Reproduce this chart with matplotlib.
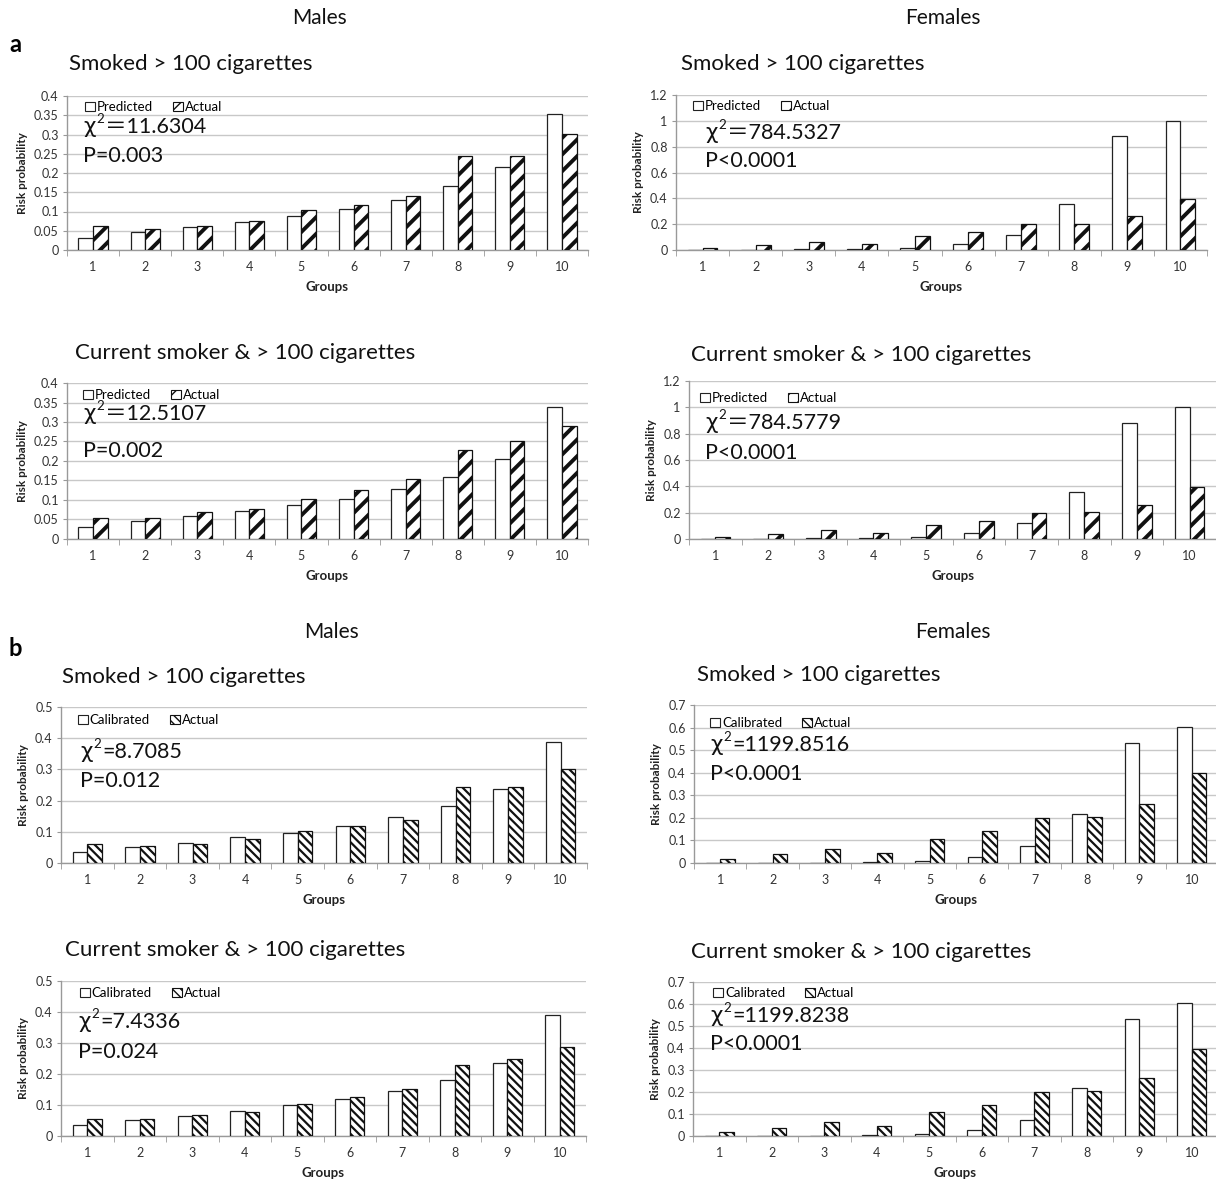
import matplotlib
matplotlib.use("Agg")
import matplotlib.pyplot as plt
from matplotlib.patches import Patch
import numpy as np

plt.rcParams['font.family'] = ['Lato', 'DejaVu Sans', 'Noto Sans CJK SC']

W, H = 1216, 1182

groups = [1, 2, 3, 4, 5, 6, 7, 8, 9, 10]

# ---- a: predicted vs actual ----
a_male_smoked_pred = [0.032, 0.047, 0.059, 0.074, 0.088, 0.106, 0.131, 0.167, 0.215, 0.352]
a_male_smoked_act = [0.062, 0.055, 0.062, 0.076, 0.104, 0.118, 0.139, 0.243, 0.243, 0.302]
a_female_smoked_pred = [0.002, 0.003, 0.004, 0.006, 0.015, 0.045, 0.120, 0.360, 0.880, 1.000]
a_female_smoked_act = [0.018, 0.035, 0.065, 0.045, 0.108, 0.138, 0.198, 0.203, 0.260, 0.395]
a_male_current_pred = [0.031, 0.045, 0.058, 0.072, 0.086, 0.102, 0.127, 0.158, 0.206, 0.338]
a_male_current_act = [0.055, 0.055, 0.069, 0.077, 0.103, 0.125, 0.153, 0.228, 0.250, 0.289]
a_female_current_pred = [0.001, 0.002, 0.004, 0.006, 0.015, 0.045, 0.120, 0.360, 0.880, 1.000]
a_female_current_act = [0.018, 0.035, 0.065, 0.045, 0.108, 0.138, 0.198, 0.203, 0.260, 0.395]

# ---- b: calibrated vs actual ----
b_male_smoked_cal = [0.035, 0.051, 0.065, 0.082, 0.097, 0.117, 0.146, 0.184, 0.236, 0.389]
b_male_smoked_act = [0.062, 0.055, 0.062, 0.076, 0.104, 0.118, 0.139, 0.243, 0.243, 0.302]
b_female_smoked_cal = [0.001, 0.001, 0.001, 0.003, 0.008, 0.027, 0.075, 0.218, 0.532, 0.604]
b_female_smoked_act = [0.018, 0.038, 0.063, 0.045, 0.108, 0.140, 0.198, 0.203, 0.262, 0.397]
b_male_current_cal = [0.034, 0.052, 0.066, 0.082, 0.099, 0.118, 0.146, 0.182, 0.237, 0.389]
b_male_current_act = [0.055, 0.055, 0.069, 0.076, 0.103, 0.125, 0.153, 0.228, 0.250, 0.288]
b_female_current_cal = [0.001, 0.001, 0.001, 0.003, 0.008, 0.027, 0.075, 0.218, 0.532, 0.604]
b_female_current_act = [0.018, 0.038, 0.063, 0.045, 0.108, 0.140, 0.198, 0.203, 0.262, 0.397]

yticks_male_a = [0, 0.05, 0.1, 0.15, 0.2, 0.25, 0.3, 0.35, 0.4]
yticks_female_a = [0, 0.2, 0.4, 0.6, 0.8, 1.0, 1.2]
yticks_male_b = [0, 0.1, 0.2, 0.3, 0.4, 0.5]
yticks_female_b = [0, 0.1, 0.2, 0.3, 0.4, 0.5, 0.6, 0.7]

fig = plt.figure(figsize=(W / 100, H / 100), dpi=100)
renderer = fig.canvas.get_renderer()


def fx(x):
    return x / W


def fy(y):
    return 1 - y / H


def chi_text(x, y, rest, size):
    """Write 'χ' with a raised '2', followed by the statistic."""
    t1 = fig.text(fx(x), fy(y), 'χ', fontsize=size, ha='left', va='center',
                  color='#111111', family=['DejaVu Sans'])
    bb = t1.get_window_extent(renderer)
    x1 = bb.x1 + 1
    t2 = fig.text(x1 / W, fy(y - 8), '2', fontsize=size * 0.62, ha='left',
                  va='center', color='#111111')
    bb2 = t2.get_window_extent(renderer)
    fig.text((bb2.x1 + 1) / W, fy(y), rest, fontsize=size, ha='left',
             va='center', color='#111111')


def panel(box, model, actual, model_name, yticks, hatch, hatch_lw,
          title, title_xy, legend_xy, chi_rest, p, stat_xy, stat_gap):
    l, r, t, b = box
    ax = fig.add_axes([fx(l), fy(b), (r - l) / W, (b - t) / H])
    x = np.array(groups, dtype=float)
    w = 0.28
    ax.bar(x - w / 2, model, w, facecolor='white', edgecolor='#222222',
           linewidth=0.9, zorder=3)
    bars = ax.bar(x + w / 2, actual, w, facecolor='white', edgecolor='#111111',
                  linewidth=0.9, hatch=hatch, zorder=3)
    for br in bars:
        if hasattr(br, 'set_hatch_linewidth'):
            br.set_hatch_linewidth(hatch_lw)
    ax.set_xlim(0.5, 10.5)
    ax.set_ylim(yticks[0], yticks[-1])
    ax.set_yticks(yticks)
    ax.set_yticklabels([f"{v:g}" for v in yticks])
    ax.set_xticks(x)
    ax.set_xticklabels([str(g) for g in groups])
    ax.set_xticks(np.arange(0.5, 11, 1.0), minor=True)
    ax.tick_params(axis='x', which='major', length=0, pad=8, labelsize=9,
                   labelcolor='#333333')
    ax.tick_params(axis='x', which='minor', length=4, color='#999999',
                   direction='out')
    ax.tick_params(axis='y', length=3, color='#999999', labelsize=9,
                   labelcolor='#333333', pad=3)
    ax.yaxis.grid(True, color='#c8c8c8', linewidth=1.0, zorder=0)
    ax.set_axisbelow(True)
    for s in ('top', 'right'):
        ax.spines[s].set_visible(False)
    for s in ('left', 'bottom'):
        ax.spines[s].set_color('#999999')
        ax.spines[s].set_linewidth(1.0)
    ax.set_xlabel('Groups', fontsize=9.5, fontweight='bold', color='#222222',
                  labelpad=6)
    ax.set_ylabel('Risk probability', fontsize=8.5, fontweight='bold',
                  color='#222222', labelpad=4)

    fig.text(fx(title_xy[0]), fy(title_xy[1]), title, fontsize=16,
             ha='left', va='center', color='#111111')

    handles = [Patch(facecolor='white', edgecolor='#222222', linewidth=0.8),
               Patch(facecolor='white', edgecolor='#111111', linewidth=0.8,
                     hatch=hatch)]
    fig.legend(handles, [model_name, 'Actual'], loc='center left',
               bbox_to_anchor=(fx(legend_xy[0]), fy(legend_xy[1])),
               ncol=2, frameon=False, fontsize=9.5, handlelength=0.75,
               handleheight=0.75, handletextpad=0.15, columnspacing=1.5,
               borderpad=0, borderaxespad=0)

    chi_text(stat_xy[0], stat_xy[1], chi_rest, 15.5)
    fig.text(fx(stat_xy[0]), fy(stat_xy[1] + stat_gap), p, fontsize=15.5,
             ha='left', va='center', color='#111111')
    return ax


# section headers
fig.text(fx(15), fy(45), 'a', fontsize=17, fontweight='bold', ha='center', va='center')
fig.text(fx(15), fy(648), 'b', fontsize=17, fontweight='bold', ha='center', va='center')
fig.text(fx(320), fy(18), 'Males', fontsize=15, ha='center', va='center', color='#111111')
fig.text(fx(943), fy(18), 'Females', fontsize=15, ha='center', va='center', color='#111111')
fig.text(fx(331), fy(632), 'Males', fontsize=15, ha='center', va='center', color='#111111')
fig.text(fx(953), fy(632), 'Females', fontsize=15, ha='center', va='center', color='#111111')

t_smoked = 'Smoked > 100 cigarettes'
t_current = 'Current smoker & > 100 cigarettes'

HA = '//'
HB = '\\\\\\\\'

# panel a
panel((67, 588, 96, 250), a_male_smoked_pred, a_male_smoked_act, 'Predicted',
      yticks_male_a, HA, 2.8, t_smoked, (69, 64), (85, 107),
      '＝11.6304', 'P=0.003', (83, 127), 29)
panel((676, 1207, 95, 250), a_female_smoked_pred, a_female_smoked_act, 'Predicted',
      yticks_female_a, HA, 2.8, t_smoked, (681, 64), (693, 106),
      '＝784.5327', 'P<0.0001', (705, 133), 28)
panel((67, 588, 383, 539), a_male_current_pred, a_male_current_act, 'Predicted',
      yticks_male_a, HA, 2.8, t_current, (75, 353), (83, 395),
      '＝12.5107', 'P=0.002', (83, 414), 37)
panel((689, 1216, 381, 539), a_female_current_pred, a_female_current_act, 'Predicted',
      yticks_female_a, HA, 2.8, t_current, (691, 355), (700, 398),
      '＝784.5779', 'P<0.0001', (705, 423), 30)

# panel b
panel((61, 587, 707, 863), b_male_smoked_cal, b_male_smoked_act, 'Calibrated',
      yticks_male_b, HB, 1.6, t_smoked, (62, 677), (78, 720),
      '=8.7085', 'P=0.012', (80, 752), 29)
panel((694, 1218, 705, 863), b_female_smoked_cal, b_female_smoked_act, 'Calibrated',
      yticks_female_b, HB, 1.6, t_smoked, (697, 675), (710, 723),
      '=1199.8516', 'P<0.0001', (710, 745), 29)
panel((61, 586, 981, 1136), b_male_current_cal, b_male_current_act, 'Calibrated',
      yticks_male_b, HB, 1.6, t_current, (65, 950), (80, 993),
      '=7.4336', 'P=0.024', (78, 1022), 30)
panel((693, 1218, 982, 1136), b_female_current_cal, b_female_current_act, 'Calibrated',
      yticks_female_b, HB, 1.6, t_current, (691, 952), (713, 993),
      '=1199.8238', 'P<0.0001', (710, 1016), 28)

fig.savefig('out.png', dpi=100, facecolor='white')
